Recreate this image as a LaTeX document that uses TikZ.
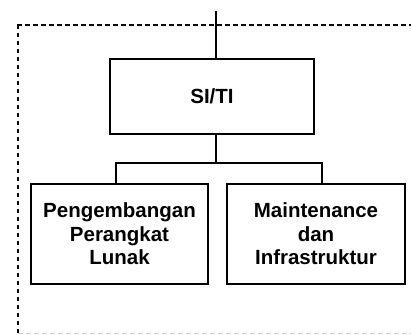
\documentclass[tikz,border=0pt]{standalone}
\usepackage{fontspec}
\setmainfont{Liberation Sans}
\usepackage{tikz}
\usetikzlibrary{positioning}

\begin{document}
\begin{tikzpicture}[
x=1pt,y=-1pt,
unit/.style={
  draw,
  line width=2pt,
  inner sep=0pt,
  align=center,
  font=\fontsize{20.5}{23.5}\selectfont\bfseries
  },
link/.style={
  line width=1.8pt
  },
frame/.style={
  dash pattern=on 5pt off 3pt
  },
>=latex
]
\useasboundingbox (0,0) rectangle (411,334);

% boundary of the unit
\draw[frame,line width=2.8pt] (17,25) -- (411,25);
\draw[frame,line width=1.2pt,dash pattern=on 4pt off 4pt] (18,25) -- (18,334);
\draw[frame,line width=1pt,gray!40] (18,333) -- (411,333);

\node[unit,minimum width=204pt,minimum height=75pt] (siti) at (212,96.5) {SI/TI};
\node[unit,minimum width=177pt,minimum height=100pt] (pp) at (119.5,234)
  {Pengembangan\\Perangkat\\Lunak};
\node[unit,minimum width=178pt,minimum height=100pt] (mi) at (316,234)
  {Maintenance\\dan\\Infrastruktur};

\coordinate (top) at (216,11);
\coordinate (fork) at (216,163);
\coordinate (bl) at (116,163);
\coordinate (br) at (322,163);

\draw[link] (top) -- (top |- siti.north);
\draw[link] (fork |- siti.south) -- (fork);
\draw[link] (bl |- pp.north) -- (bl) -- (br) -- (br |- mi.north);
\end{tikzpicture}
\end{document}
